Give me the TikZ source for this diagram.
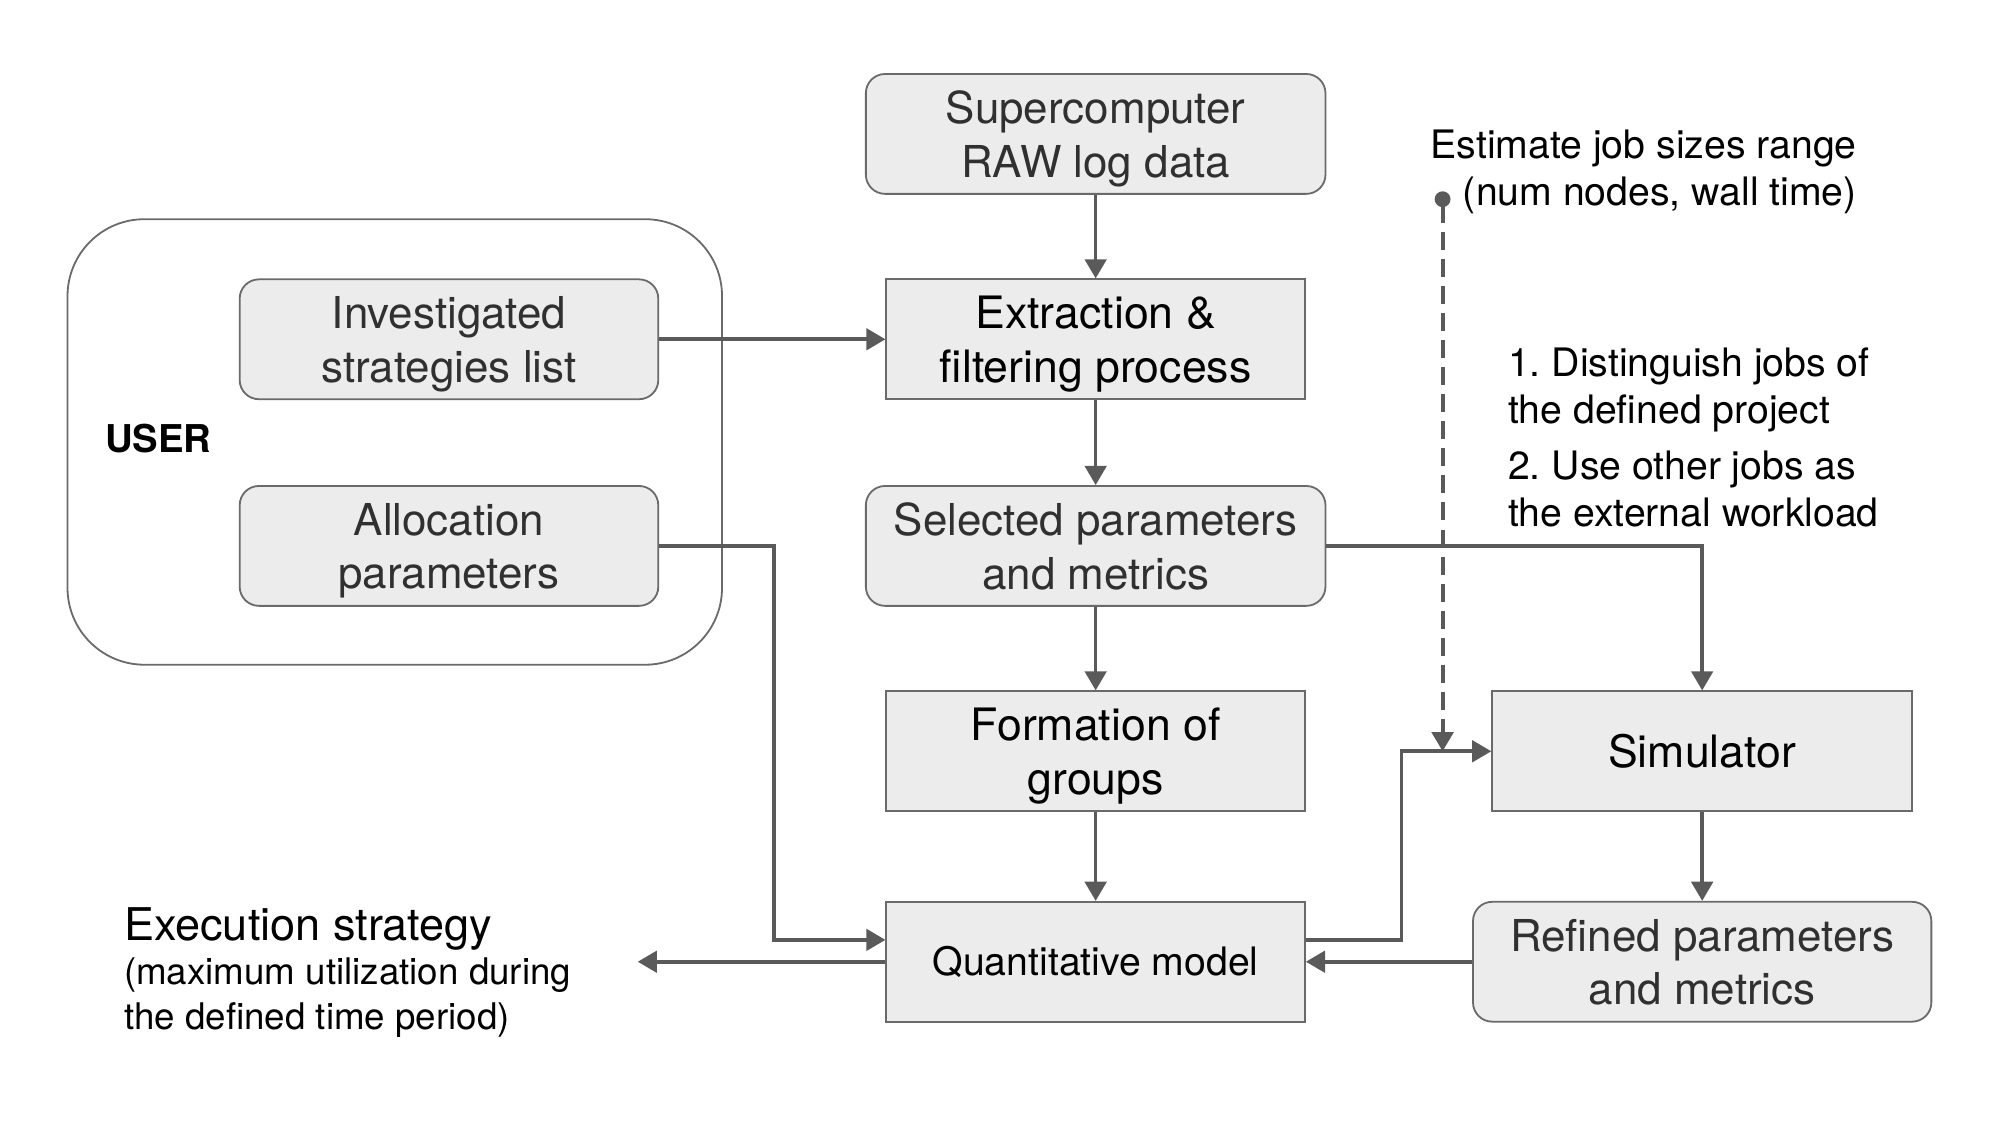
\documentclass[tikz,border=0pt]{standalone}
\usepackage{fontspec}
\setmainfont{TeX Gyre Heros}
\usetikzlibrary{arrows.meta,positioning}
\frenchspacing

\definecolor{linegray}{HTML}{5A5A5A}
\definecolor{boxfill}{HTML}{ECECEC}
\definecolor{boxline}{HTML}{6A6A6A}
\definecolor{softtext}{HTML}{303030}

\tikzset{
	conn/.style={line width=1.6pt, draw=linegray, -{Triangle[length=8.5pt,width=9.5pt]}},
	roundbox/.style={draw=boxline, line width=0.8pt, fill=boxfill, rounded corners=0.3cm,
		minimum width=7.17cm, minimum height=1.87cm, inner sep=0pt, align=center, text depth=0pt,
		text=softtext, font=\fontsize{19.5}{23.8}\selectfont},
	rectbox/.style={draw=boxline, line width=0.8pt, fill=boxfill,
		minimum width=6.53cm, minimum height=1.87cm, inner sep=0pt, align=center, text depth=0pt,
		font=\fontsize{19.8}{23.9}\selectfont},
	note/.style={inner sep=0pt, font=\fontsize{17.4}{21}\selectfont}
}

\begin{document}
\begin{tikzpicture}[x=0.0199cm, y=-0.0199cm]
				\useasboundingbox (0,0) rectangle (1568,882);
				
				% user side
				\node [draw=boxline, line width=0.8pt, rounded corners=1.2cm, minimum width=10.21cm, minimum height=6.95cm] (user) at (309.5,346.5) {};
				\node [roundbox, minimum width=6.53cm] (strategies) at (352,266) {Investigated\\strategies list};
				\node [roundbox, minimum width=6.53cm] (alloc) at (352,428) {Allocation\\parameters};
				\node [inner sep=0pt, anchor=base west, font=\bfseries\fontsize{17}{20}\selectfont] (userlabel) at (82,355) {USER};
				
				% main column
				\node [roundbox] (raw) at (859,105) {Supercomputer\\RAW log data};
				\node [rectbox] (extract) at (859,266) {Extraction \&\\filtering process};
				\node [roundbox] (selected) at (859,428) {Selected parameters\\and metrics};
				\node [rectbox] (groups) at (859,589) {Formation of\\groups};
				\node [rectbox, text depth=, font=\fontsize{17.4}{21}\selectfont] (model) at (859,754) {Quantitative model};
				
				% simulator side
				\node [rectbox, text depth=, minimum width=6.55cm] (sim) at (1334.5,589) {Simulator};
				\node [roundbox, minimum width=7.15cm] (refined) at (1334.5,754) {Refined parameters\\and metrics};
				
				% % % % % % % % % % % % % % % % % % % % % % % % % %
				
				\node [note, anchor=base east, align=right] (jobsizes) at (1456,161) {Estimate job sizes range\\(num nodes, wall time)};
				\node [note, anchor=base west, align=left] (step1) at (1182,332) {1. Distinguish jobs of\\the defined project};
				\node [note, anchor=base west, align=left] (step2) at (1182,413) {2. Use other jobs as\\the external workload};
				
				\node [inner sep=0pt, anchor=base west, font=\fontsize{20}{24}\selectfont] (exec) at (97,737) {Execution strategy};
				\node [inner sep=0pt, anchor=base west, align=left, font=\fontsize{16.3}{20}\selectfont] (execnote) at (97,807) {(maximum utilization during\\the defined time period)};
				
				\coordinate (execend) at (500,754);
				\coordinate (jobsdot) at (1131,150);
				\coordinate (jobsin) at (1131,589);
				
				\draw [conn] (raw) -- (extract);
				\draw [conn] (extract) -- (selected);
				\draw [conn] (selected) -- (groups);
				\draw [conn] (groups) -- (model);
				\draw [conn] (sim) -- (refined);
				\draw [conn] (strategies) -- (extract);
				\draw [conn] (alloc.east) -- ++(90,0) |- ([yshift=9.7pt]model.west);
				\draw [conn] (selected.east) -| (sim.north);
				\draw [conn] ([yshift=9.7pt]model.east) -- ++(75,0) |- (sim.west);
				\draw [conn] (refined.west) -- (model.east);
				\draw [conn] (model.west) -- (execend);
				\draw [conn, line width=1.8pt, dash pattern=on 8pt off 4pt, {Circle[length=7pt]}-{Triangle[length=8.5pt,width=9.5pt]}] (jobsdot) -- (jobsin);
\end{tikzpicture}
\end{document}
